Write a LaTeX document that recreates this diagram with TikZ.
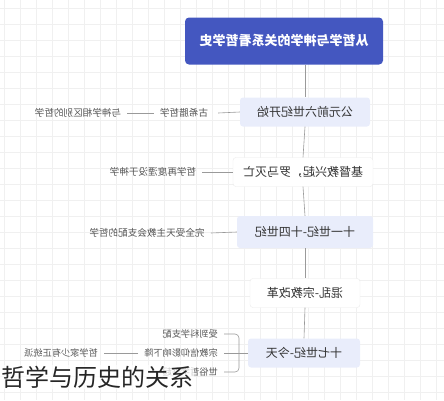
\documentclass[tikz,border=0pt]{standalone}
\usepackage{graphicx}
\usepackage{fontspec}
\setmainfont{Noto Sans CJK SC}
\usetikzlibrary{calc, positioning}
\newcommand{\mir}[1]{\reflectbox{#1}}
\definecolor{titleblue}{HTML}{4457C0}
\definecolor{stagefill}{HTML}{E9EDFB}
\definecolor{gridgray}{HTML}{F0F0F0}
\definecolor{linkgray}{HTML}{9A9A9A}
\definecolor{notegray}{HTML}{555555}

\begin{document}
\begin{tikzpicture}[x=1pt, y=-1pt,
    stage/.style={rounded corners=3pt, minimum height=29pt, inner xsep=6pt, text=black!80, font=\fontsize{12}{12}\selectfont},
    bluestage/.style={stage, fill=stagefill},
    whitestage/.style={stage, fill=white, draw=black!8},
    note/.style={inner xsep=6pt, inner ysep=2pt, text=notegray, font=\fontsize{9.6}{10}\selectfont},
    subnote/.style={note, font=\fontsize{9.2}{10}\selectfont},
    link/.style={linkgray, line width=0.6pt}]
  \useasboundingbox (0,0) rectangle (444,400);
  % background grid
  \foreach \gx in {4,20,...,444} \draw [gridgray] (\gx,0) -- (\gx,400);
  \foreach \gy in {8,24,...,400} \draw [gridgray] (0,\gy) -- (444,\gy);

  \node [rounded corners=4pt, fill=titleblue, text=white, minimum width=198pt, minimum height=47pt, font=\fontsize{13}{13}\selectfont\bfseries] (title) at (284,41) {\mir{从哲学与神学的关系看哲学史}}; % title box

  \node [bluestage, minimum width=130pt] (s1) at (305,112) {\mir{公元前六世纪开始}};
  \node [whitestage, minimum width=140pt] (s2) at (303,172) {\mir{基督教兴起，罗马灭亡}};
  \node [bluestage, minimum width=136pt, minimum height=32pt] (s3) at (305,232) {\mir{十一世纪-十四世纪}};
  \node [whitestage, minimum width=110pt] (s4) at (305,293) {\mir{混乱-宗教改革}};
  \node [bluestage, minimum width=112pt] (s5) at (304,353) {\mir{十七世纪-今天}};

  \draw [link] (s1.north |- title.south) -- (s1.north);
  \draw [link] (s1.south) -- (s2.north);
  \draw [link] (s2.south) -- (s3.north);
  \draw [link] (s3.south) -- (s4.north);
  \draw [link] (s4.south) -- (s5.north);

  % side notes
  \node [note] (s1a) at (184,113) {\mir{古希腊哲学}};
  \node [note] (s1b) at (78,113) {\mir{与神学相区别的哲学}};
  \draw [link] (s1.west) -- ([xshift=4pt]s1a.east);
  \draw [link] (s1a.west) -- (s1b.east);

  \node [note] (s2a) at (153,172) {\mir{哲学再度湮没于神学}};
  \draw [link] (s2.west) -- (s2a.east);

  \node [note] (s3a) at (147,233) {\mir{完全受天主教会支配的哲学}};
  \draw [link] (s3.west) -- (s3a.east);

  \coordinate (bx) at (239,353);
  \node [subnote, anchor=east] (s5a) at (224,334) {\mir{受到科学支配}};
  \node [subnote, anchor=east] (s5b) at (224,353) {\mir{宗教信仰影响下降}};
  \node [subnote, anchor=east] (s5c) at (224,372) {\mir{世俗哲学兴起}};
  \node [subnote] (s5d) at (61,353) {\mir{哲学家少有正统派}};
  \draw [link, rounded corners=4pt] (s5a.east) -| (bx) |- (s5c.east);
  \draw [link] (s5.west) -- (s5b.east);
  \draw [link] (s5b.west) -- (s5d.east);

  % caption
  \node [anchor=west, inner sep=1pt, fill=white, fill opacity=0.7, text opacity=1, text=black!85, font=\fontsize{24}{24}\selectfont] (caption) at (0,377) {哲学与历史的关系};
\end{tikzpicture}
\end{document}
